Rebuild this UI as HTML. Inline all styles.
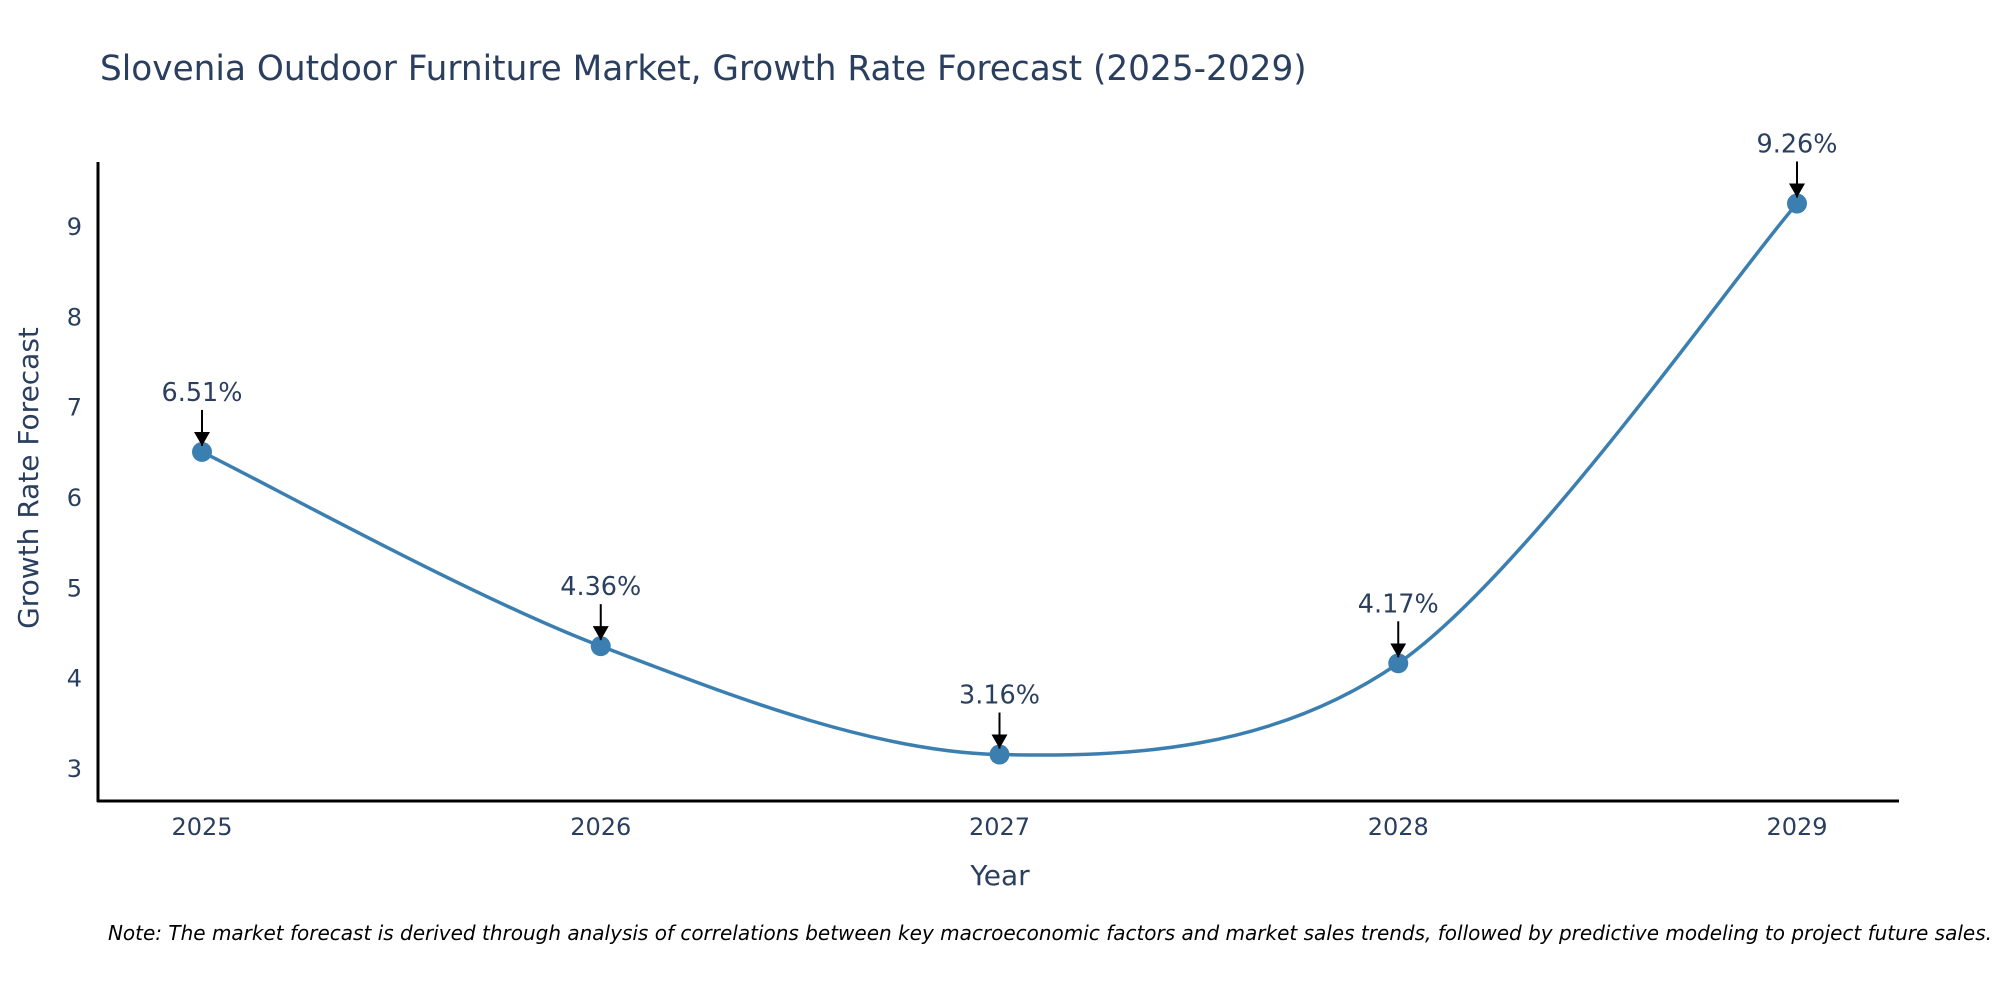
<!DOCTYPE html>
<html><head><meta charset="utf-8"><style>
body{margin:0;background:#fff;}
svg text{font-family:"DejaVu Sans","Liberation Sans",sans-serif;fill:#2a3f5f;}
</style></head><body>
<svg width="2000" height="1000" xmlns="http://www.w3.org/2000/svg" id="chart">
<defs><marker id="ah" markerWidth="8" markerHeight="8" refX="7" refY="4" orient="auto" markerUnits="strokeWidth"><path d="M0,0 L7,4 L0,8 z" fill="#000"/></marker></defs>
<text x="100" y="80" font-size="34.3">Slovenia Outdoor Furniture Market, Growth Rate Forecast (2025-2029)</text>
<g id="plot"></g>
<line x1="98" y1="162" x2="98" y2="802" stroke="#000" stroke-width="3"/>
<line x1="97" y1="801" x2="1899" y2="801" stroke="#000" stroke-width="3"/>
<text x="1000" y="885" font-size="28" text-anchor="middle">Year</text>
<text transform="translate(38,478) rotate(-90)" font-size="28" text-anchor="middle">Growth Rate Forecast</text>
<text x="1992" y="940" font-size="20" font-style="italic" text-anchor="end" style="fill:#000">Note: The market forecast is derived through analysis of correlations between key macroeconomic factors and market sales trends, followed by predictive modeling to project future sales.</text>
</svg>
<script>
const years = [2025, 2026, 2027, 2028, 2029];
const values = [6.51, 4.36, 3.16, 4.17, 9.26];
const labels = ["6.51%", "4.36%", "3.16%", "4.17%", "9.26%"];
const yTicks = [3, 4, 5, 6, 7, 8, 9];
const NS = "http://www.w3.org/2000/svg";
const xs = v => 202 + (v - 2025) * (1797 - 202) / 4;
const ys = v => 769 - (v - 3) * (769 - 227) / 6;
const g = document.getElementById('plot');
function mk(tag, attrs) { const e = document.createElementNS(NS, tag); for (const k in attrs) e.setAttribute(k, attrs[k]); g.appendChild(e); return e; }
yTicks.forEach(t => {
  const e = mk('text', {x: 82, y: ys(t) + 8, 'font-size': 24, 'text-anchor': 'end'});
  e.textContent = t;
  
  
});
years.forEach(y => {
  const e = mk('text', {x: xs(y), y: 835, 'font-size': 24, 'text-anchor': 'middle'});
  e.textContent = y;
  
  
});
const pts = years.map((y, i) => [xs(y), ys(values[i])]);
let d = `M${pts[0][0]},${pts[0][1]}`;
const s = 0.16;
for (let i = 0; i < pts.length - 1; i++) {
  const p0 = pts[Math.max(0, i - 1)], p1 = pts[i], p2 = pts[i + 1], p3 = pts[Math.min(pts.length - 1, i + 2)];
  const c1 = [p1[0] + (p2[0] - p0[0]) * s, p1[1] + (p2[1] - p0[1]) * s];
  const c2 = [p2[0] - (p3[0] - p1[0]) * s, p2[1] - (p3[1] - p1[1]) * s];
  d += ` C${c1[0]},${c1[1]} ${c2[0]},${c2[1]} ${p2[0]},${p2[1]}`;
}
const line = mk('path', {d: d, fill: 'none', stroke: '#3b7fb1', 'stroke-width': 3.5});


pts.forEach((p, i) => {
  const c = mk('circle', {cx: p[0], cy: p[1], r: 10, fill: '#3b7fb1'});
  
  
  const a = mk('line', {x1: p[0], y1: p[1] - 42, x2: p[0], y2: p[1] - 6, stroke: '#000', 'stroke-width': 2, 'marker-end': 'url(#ah)'});
  
  
  const t = mk('text', {x: p[0], y: p[1] - 51, 'font-size': 25.5, 'text-anchor': 'middle'});
  t.textContent = labels[i];
  
  
});
</script>
</body></html>
